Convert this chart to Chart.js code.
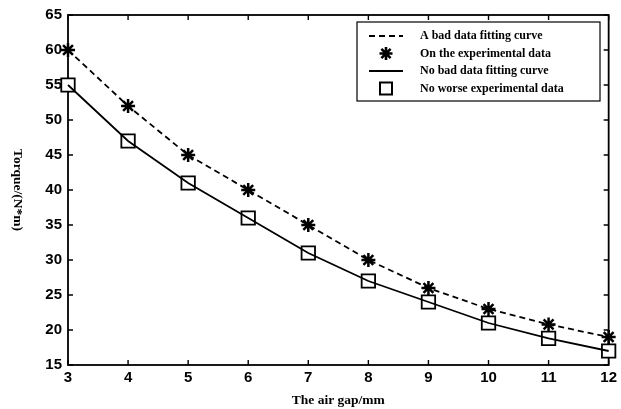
<!DOCTYPE html>
<html>
<head>
<meta charset="utf-8">
<script src="https://cdn.jsdelivr.net/npm/chart.js@4/dist/chart.umd.min.js"></script>
<style>
  html, body { margin: 0; padding: 0; background: #fff; }
  canvas { display: block; }
</style>
</head>
<body>
<canvas id="chart" width="621" height="409"></canvas>
<script>
const airGap = [3, 4, 5, 6, 7, 8, 9, 10, 11, 12];
const badFit = [60, 52, 45, 40, 35, 30, 26, 23, 20.8, 19];
const noBadFit = [55, 47, 41, 36, 31, 27, 24, 21, 18.8, 17];
const seriesNames = ['A bad data fitting curve', 'On the experimental data', 'No bad data fitting curve', 'No worse experimental data'];
const xLabel = 'The air gap/mm';
const yLabel = 'Torque/(N*m)';

const toPoints = ys => airGap.map((x, i) => ({ x: x, y: ys[i] }));

// MATLAB-like frame with inward ticks on all four sides
const framePlugin = {
    id: 'frame',
    beforeDatasetsDraw(chart) {
        const { ctx, chartArea: a, scales } = chart;
        ctx.save();
        ctx.strokeStyle = '#000';
        ctx.lineWidth = 1.8;
        ctx.strokeRect(a.left, a.top, a.right - a.left, a.bottom - a.top);
        ctx.lineWidth = 1.4;
        ctx.beginPath();
        scales.x.ticks.forEach(t => {
            const px = scales.x.getPixelForValue(t.value);
            ctx.moveTo(px, a.bottom); ctx.lineTo(px, a.bottom - 5);
            ctx.moveTo(px, a.top); ctx.lineTo(px, a.top + 5);
        });
        scales.y.ticks.forEach(t => {
            const py = scales.y.getPixelForValue(t.value);
            ctx.moveTo(a.left, py); ctx.lineTo(a.left + 5, py);
            ctx.moveTo(a.right, py); ctx.lineTo(a.right - 5, py);
        });
        ctx.stroke();

        // y axis title, reading top to bottom
        ctx.font = 'bold 13.5px "Liberation Serif", serif';
        ctx.fillStyle = '#000';
        ctx.textAlign = 'center';
        ctx.textBaseline = 'middle';
        ctx.translate(17, (a.top + a.bottom) / 2);
        ctx.rotate(Math.PI / 2);
        ctx.fillText(yLabel, 0, 0);
        ctx.restore();
    },
    afterDraw(chart) {
        const { ctx } = chart;
        // legend box
        const lx = 357, ly = 22, lw = 243, lh = 79;
        ctx.save();
        ctx.fillStyle = '#fff';
        ctx.fillRect(lx, ly, lw, lh);
        ctx.strokeStyle = '#000';
        ctx.lineWidth = 1.2;
        ctx.strokeRect(lx, ly, lw, lh);
        ctx.font = 'bold 12px "Liberation Serif", serif';
        ctx.textBaseline = 'middle';
        chart.data.datasets.forEach((ds, i) => {
            const y = ly + 14 + i * 17.5;
            ctx.strokeStyle = '#000';
            if (ds.showLine) {
                ctx.lineWidth = 1.8;
                ctx.setLineDash(ds.borderDash || []);
                ctx.beginPath();
                ctx.moveTo(369, y); ctx.lineTo(403, y);
                ctx.stroke();
                ctx.setLineDash([]);
            } else if (ds.pointStyle === 'rect') {
                ctx.fillStyle = ds.pointBackgroundColor;
                ctx.lineWidth = 2;
                ctx.fillRect(380, y - 6, 12, 12);
                ctx.strokeRect(380, y - 6, 12, 12);
            } else {
                ctx.lineWidth = 2.6;
                Chart.helpers.drawPoint(ctx, {
                    pointStyle: ds.pointStyle,
                    radius: 6.5,
                    rotation: 0,
                    borderWidth: 2.6
                }, 386, y);
            }
            ctx.fillStyle = '#000';
            ctx.textAlign = 'left';
            ctx.fillText(ds.label, 420, y);
        });
        ctx.restore();
    }
};

const tickFont = { family: '"Liberation Sans", Arial, sans-serif', size: 15, weight: 'bold' };

new Chart(document.getElementById('chart'), {
    type: 'scatter',
    data: {
        datasets: [
            { label: seriesNames[0], data: toPoints(badFit), showLine: true, borderColor: '#000', borderWidth: 1.8, borderDash: [6, 4], pointRadius: 0, clip: false },
            { label: seriesNames[1], data: toPoints(badFit), showLine: false, pointStyle: 'star', pointRadius: 7, pointBorderWidth: 2.5, pointBorderColor: '#000', pointBackgroundColor: '#000', clip: false },
            { label: seriesNames[2], data: toPoints(noBadFit), showLine: true, borderColor: '#000', borderWidth: 1.8, pointRadius: 0, clip: false },
            { label: seriesNames[3], data: toPoints(noBadFit), showLine: false, pointStyle: 'rect', pointRadius: 9.5, pointBorderWidth: 1.8, pointBorderColor: '#000', pointBackgroundColor: '#fff', clip: false }
        ]
    },
    options: {
        responsive: false,
        animation: false,
        layout: { padding: { top: 15, right: 12, left: 0, bottom: 0 } },
        plugins: { legend: { display: false }, tooltip: { enabled: false } },
        scales: {
            x: {
                type: 'linear', min: 3, max: 12,
                ticks: { stepSize: 1, color: '#000', padding: 4, font: tickFont },
                grid: { display: false, drawTicks: false },
                border: { display: false },
                title: { display: true, text: xLabel, color: '#000', padding: { top: 3, bottom: 0 }, font: { family: '"Liberation Serif", serif', size: 13.5, weight: 'bold' } },
                afterFit: s => { s.height = 44; }
            },
            y: {
                min: 15, max: 65,
                ticks: { stepSize: 5, color: '#000', padding: 6, font: tickFont },
                grid: { display: false, drawTicks: false },
                border: { display: false },
                afterFit: s => { s.width = 68; }
            }
        }
    },
    plugins: [framePlugin]
});
</script>
</body>
</html>
